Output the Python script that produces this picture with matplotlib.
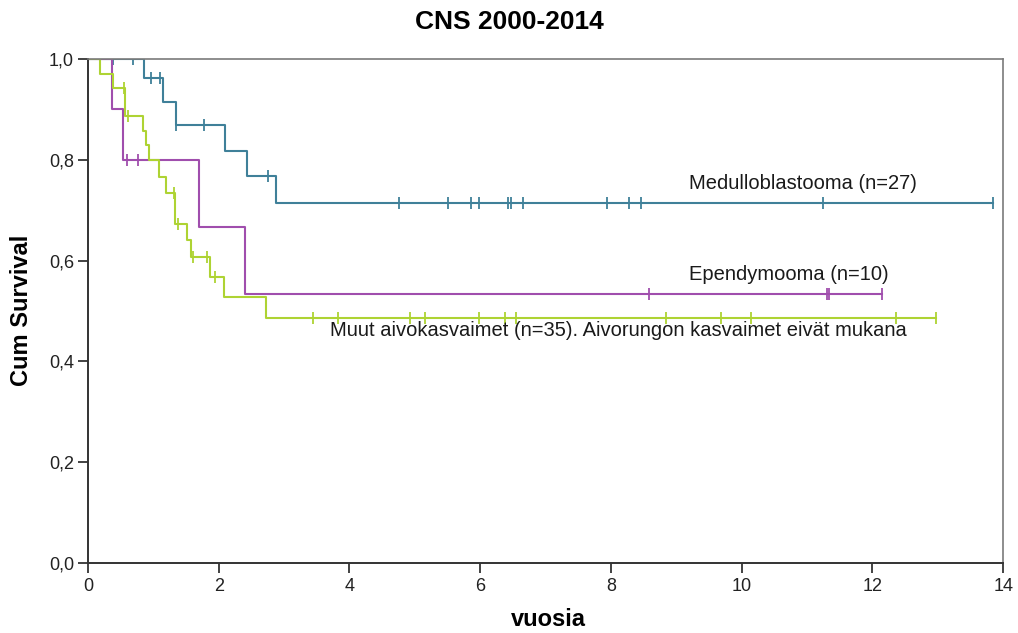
import numpy as np
import matplotlib.pyplot as plt

plt.rcParams['font.family'] = ['Liberation Sans', 'DejaVu Sans']

# Kaplan-Meier steps (time in years, cumulative survival) and censoring times
med_t = [0, 0.86, 1.15, 1.35, 2.10, 2.43, 2.87]
med_s = [1.0, 0.963, 0.915, 0.870, 0.817, 0.768, 0.714]
med_end = 13.85
med_cens = [0.39, 0.69, 0.96, 1.10, 1.35, 1.77, 2.75, 4.76, 5.51, 5.86, 5.98,
            6.42, 6.47, 6.65, 7.94, 8.27, 8.46, 11.24, 13.85]

epe_t = [0, 0.37, 0.54, 1.70, 2.40]
epe_s = [1.0, 0.9, 0.8, 0.667, 0.533]
epe_end = 12.14
epe_cens = [0.59, 0.77, 8.58, 11.30, 11.34, 12.14]

muut_t = [0, 0.19, 0.39, 0.56, 0.84, 0.89, 0.94, 1.09, 1.19, 1.33, 1.51, 1.57,
          1.87, 2.08, 2.73]
muut_s = [1.0, 0.971, 0.943, 0.887, 0.857, 0.829, 0.800, 0.766, 0.735, 0.673,
          0.641, 0.607, 0.568, 0.528, 0.486]
muut_end = 12.98
muut_cens = [0.55, 0.62, 1.32, 1.38, 1.61, 1.82, 1.94, 3.44, 3.83, 4.93, 5.16,
             5.98, 6.38, 6.55, 8.85, 9.68, 10.14, 12.36, 12.98]

groups = [
    (med_t, med_s, med_end, med_cens, '#3f8099', 'Medulloblastooma (n=27)', 9.2, 0.752),
    (epe_t, epe_s, epe_end, epe_cens, '#a04ead', 'Ependymooma (n=10)', 9.2, 0.573),
    (muut_t, muut_s, muut_end, muut_cens, '#aed333',
     'Muut aivokasvaimet (n=35). Aivorungon kasvaimet eivät mukana', 3.7, 0.462),
]

fig = plt.figure(figsize=(10.18, 6.33), dpi=100)
ax = fig.add_axes([0.0864, 0.1106, 0.899, 0.7962])

for t, s, end, cens, col, lab, lx, ly in groups:
    x = np.append(t, end)
    y = np.append(s, s[-1])
    ax.step(x, y, where='post', color=col, lw=1.5)
    idx = np.searchsorted(t, cens, side='right') - 1
    ax.plot(cens, np.array(s)[idx], linestyle='none', marker='|', ms=8,
            mew=1.3, color=col)
    ax.text(lx, ly, lab, fontsize=14.5, color='#1a1a1a', va='center', ha='left')

ax.set_xlim(0, 14)
ax.set_ylim(0, 1.0)
ax.set_xticks(np.arange(0, 15, 2))
ax.set_yticks(np.arange(0, 1.01, 0.2))
ax.set_yticklabels([('%.1f' % v).replace('.', ',') for v in np.arange(0, 1.01, 0.2)])
ax.tick_params(axis='both', labelsize=13, colors='#222222', direction='out',
               length=7, width=1.2)
ax.tick_params(axis='y', pad=3)
for side in ['left', 'bottom']:
    ax.spines[side].set_color('#333333')
    ax.spines[side].set_linewidth(1.4)
for side in ['top', 'right']:
    ax.spines[side].set_color('#7a7a7a')
    ax.spines[side].set_linewidth(1.2)

fig.text(0.5385, 1 - 620 / 633, 'vuosia', ha='center', va='center', fontsize=17,
         fontweight='bold')
fig.text(22 / 1018, 1 - 310 / 633, 'Cum Survival', ha='center', va='center',
         rotation=90, fontsize=17, fontweight='bold')
fig.text(0.5, 1 - 22 / 633, 'CNS 2000-2014', ha='center', va='center', fontsize=19,
         fontweight='bold')

fig.savefig('out.png', dpi=100)
